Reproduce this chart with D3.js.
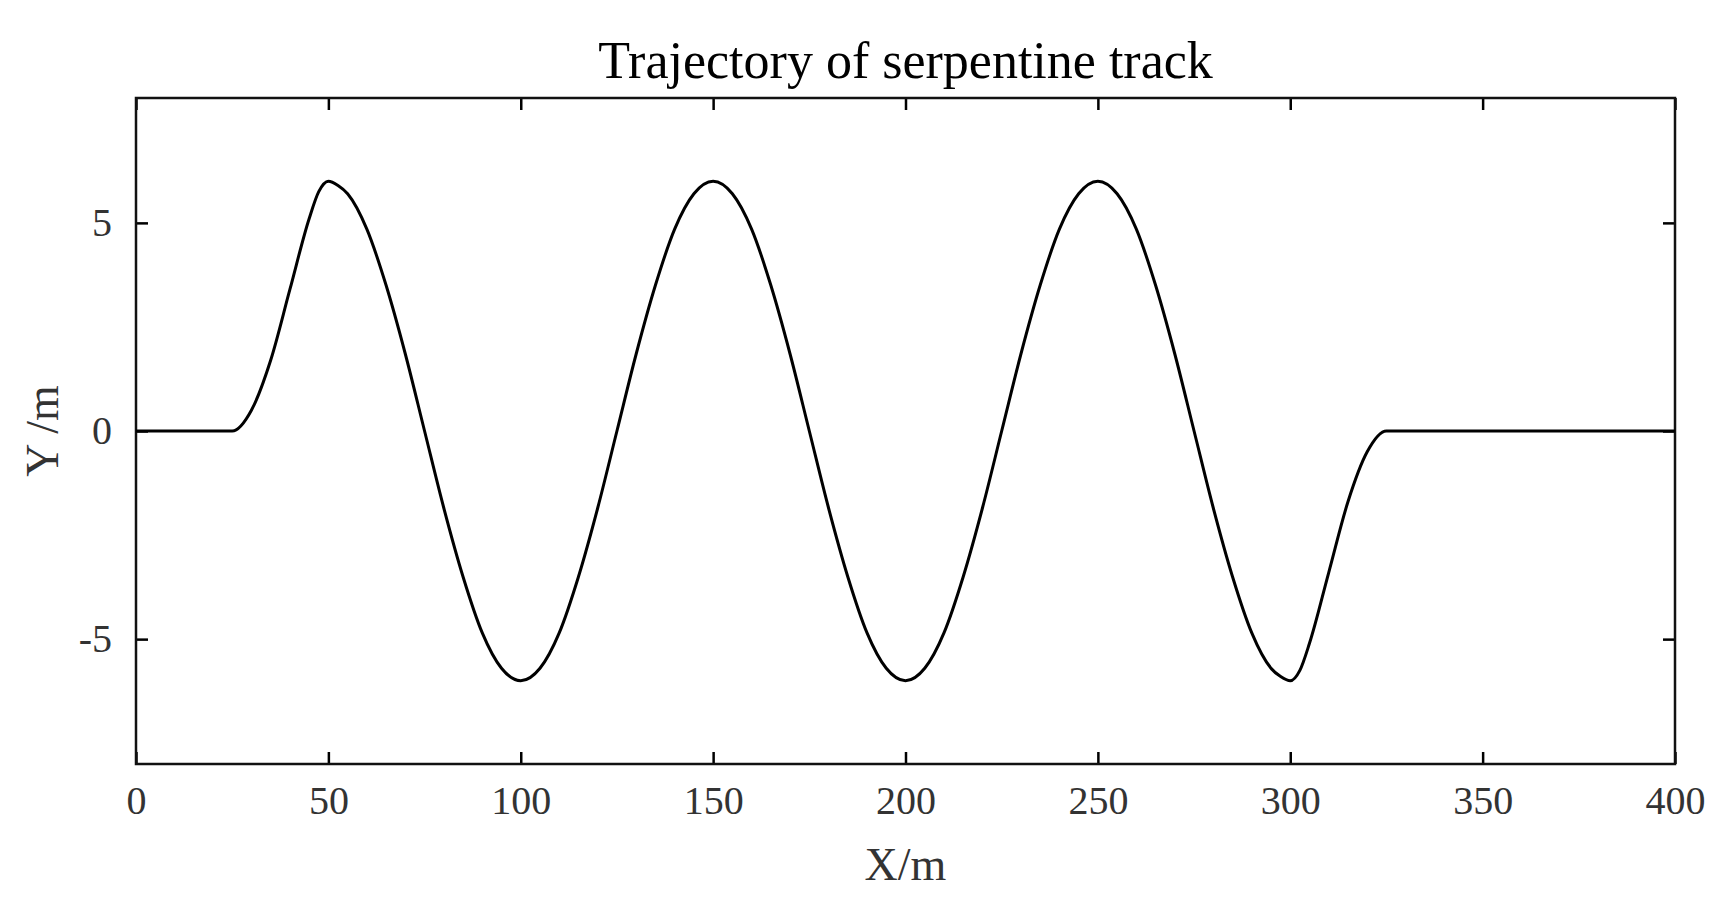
<!DOCTYPE html>
<html lang="en">
<head>
<meta charset="UTF-8">
<script src="https://unpkg.com/d3@7/dist/d3.min.js"></script>
<style>body{margin:0;background:#fff}</style>
</head>
<body>
<script>
// Values (X in m, Y in m)
var xVals = [0, 10, 20, 25, 30, 35, 40, 45, 47.5, 50, 52.5, 55, 60, 65, 70, 75, 80, 85, 90, 95,
  100, 105, 110, 115, 120, 125, 130, 135, 140, 145, 150, 155, 160, 165, 170, 175, 180, 185, 190, 195,
  200, 205, 210, 215, 220, 225, 230, 235, 240, 245, 250, 255, 260, 265, 270, 275, 280, 285, 290, 295,
  297.5, 300, 302.5, 305, 310, 315, 320, 325, 350, 375, 400];
var yVals = [0, 0, 0, 0, 0.5, 1.7, 3.4, 5.1, 5.75, 6, 5.9, 5.7, 4.85, 3.5, 1.85, 0, -1.85, -3.5, -4.85, -5.7,
  -6, -5.7, -4.85, -3.5, -1.85, 0, 1.85, 3.5, 4.85, 5.7, 6, 5.7, 4.85, 3.5, 1.85, 0, -1.85, -3.5, -4.85, -5.7,
  -6, -5.7, -4.85, -3.5, -1.85, 0, 1.85, 3.5, 4.85, 5.7, 6, 5.7, 4.85, 3.5, 1.85, 0, -1.85, -3.5, -4.85, -5.7,
  -5.9, -6, -5.75, -5.1, -3.4, -1.7, -0.5, 0, 0, 0, 0];
var xTicks = [0, 50, 100, 150, 200, 250, 300, 350, 400];
var yTicks = [-5, 0, 5];

var W = 1718, H = 905;
var margin = { top: 98, right: 43, bottom: 141, left: 136 };
var width = W - margin.left - margin.right;
var height = H - margin.top - margin.bottom;
var font = "'Liberation Serif', serif";

var svg = d3.select("body").append("svg")
    .attr("width", W).attr("height", H);
var g = svg.append("g")
    .attr("transform", "translate(" + margin.left + "," + margin.top + ")");

var x = d3.scaleLinear().domain([0, 400]).range([0, width]);
var y = d3.scaleLinear().domain([-8, 8]).range([height, 0]);
var fmt = function(d) { return String(d); };

function style(sel, size) {
    sel.select(".domain").remove();
    sel.selectAll("line").attr("stroke", "#000").attr("stroke-width", 2.5);
    sel.selectAll("text").style("font-family", font).style("font-size", size + "px").attr("fill", "#333");
}

// Ticks point inward, mirrored on the opposite sides
g.append("g").attr("transform", "translate(0," + height + ")")
    .call(d3.axisBottom(x).tickValues(xTicks).tickSize(-12).tickPadding(22).tickFormat(fmt))
    .call(style, 40);
g.append("g")
    .call(d3.axisTop(x).tickValues(xTicks).tickSize(-12).tickFormat(""))
    .call(style, 40);
g.append("g")
    .call(d3.axisLeft(y).tickValues(yTicks).tickSize(-12).tickPadding(24).tickFormat(fmt))
    .call(style, 40);
g.append("g").attr("transform", "translate(" + width + ",0)")
    .call(d3.axisRight(y).tickValues(yTicks).tickSize(-12).tickFormat(""))
    .call(style, 40);

g.append("rect").attr("width", width).attr("height", height)
    .attr("fill", "none").attr("stroke", "#111").attr("stroke-width", 2.5);

var pts = xVals.map(function(d, i) { return [d, yVals[i]]; });
g.append("path").datum(pts)
    .attr("fill", "none").attr("stroke", "#000").attr("stroke-width", 3)
    .attr("d", d3.line().x(function(d) { return x(d[0]); }).y(function(d) { return y(d[1]); })
        .curve(d3.curveMonotoneX));

svg.append("text").attr("x", margin.left + width / 2).attr("y", 78)
    .attr("text-anchor", "middle").style("font-family", font).style("font-size", "52px")
    .text("Trajectory of serpentine track");
svg.append("text").attr("x", margin.left + width / 2).attr("y", 880)
    .attr("text-anchor", "middle").style("font-family", font).style("font-size", "46px").attr("fill", "#333")
    .text("X/m");
svg.append("text").attr("transform", "translate(58," + (margin.top + height / 2) + ") rotate(-90)")
    .attr("text-anchor", "middle").style("font-family", font).style("font-size", "46px").attr("fill", "#333")
    .text("Y /m");
</script>
</body>
</html>
